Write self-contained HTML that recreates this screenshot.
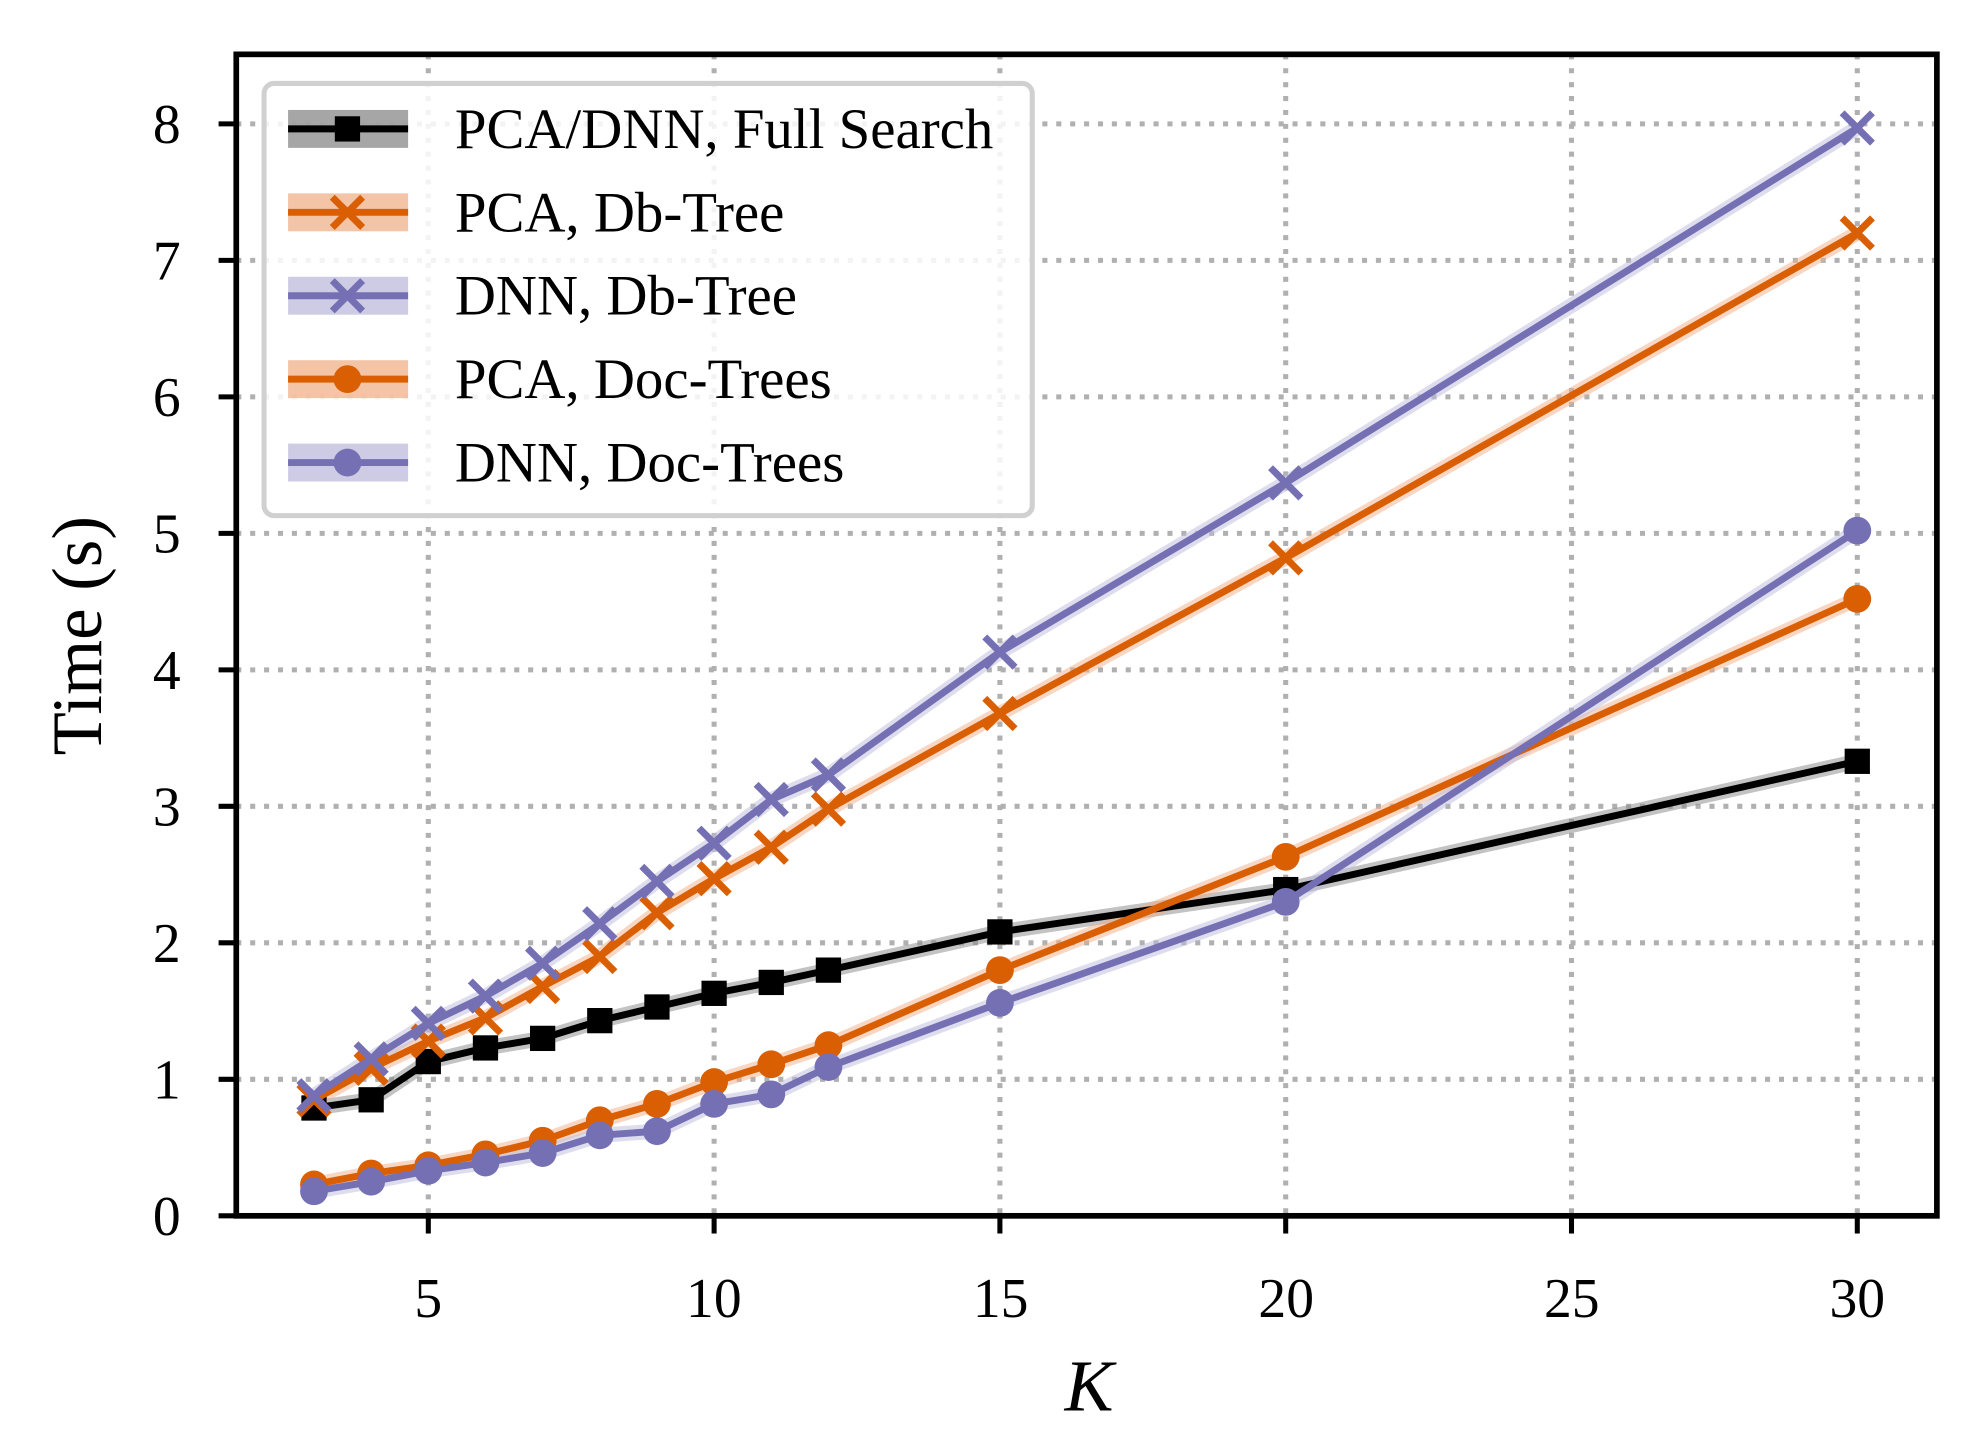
<!DOCTYPE html>
<html><head><meta charset="utf-8"><style>html,body{margin:0;padding:0;background:#fff}svg{display:block}</style></head>
<body>
<svg id="s" width="1971" height="1437" viewBox="0 0 1560 1137" preserveAspectRatio="none" xmlns="http://www.w3.org/2000/svg" font-family="'Liberation Serif', serif">
<rect x="0" y="0" width="1560" height="1137" fill="#fff"/>
<g id="grid" stroke="#b0b0b0" stroke-width="4" stroke-dasharray="4,7"></g>
<g id="data"></g>
<rect x="187" y="43" width="1346" height="919" fill="none" stroke="#000" stroke-width="4.5"/>
<g id="ticks" stroke="#000" stroke-width="4"></g>
<g font-size="44" fill="#000">
<text x="339" y="1042" text-anchor="middle">5</text>
<text x="565" y="1042" text-anchor="middle">10</text>
<text x="792" y="1042" text-anchor="middle">15</text>
<text x="1018" y="1042" text-anchor="middle">20</text>
<text x="1244" y="1042" text-anchor="middle">25</text>
<text x="1470" y="1042" text-anchor="middle">30</text>
<text x="143" y="977" text-anchor="end">0</text>
<text x="143" y="869" text-anchor="end">1</text>
<text x="143" y="761" text-anchor="end">2</text>
<text x="143" y="653" text-anchor="end">3</text>
<text x="143" y="545" text-anchor="end">4</text>
<text x="143" y="437" text-anchor="end">5</text>
<text x="143" y="329" text-anchor="end">6</text>
<text x="143" y="221" text-anchor="end">7</text>
<text x="143" y="113" text-anchor="end">8</text>
</g>
<text x="862" y="1116" font-size="58" font-style="italic" text-anchor="middle">K</text>
<text transform="translate(80,503) rotate(-90)" font-size="56" text-anchor="middle">Time (s)</text>
<rect x="209" y="66" width="608" height="342" rx="8" fill="#fff" fill-opacity="0.85" stroke="#d0d0d0" stroke-width="4"/>
<g id="leg"></g>
<g font-size="45" fill="#000">
<text x="360" y="117">PCA/DNN, Full Search</text>
<text x="360" y="183">PCA, Db-Tree</text>
<text x="360" y="249">DNN, Db-Tree</text>
<text x="360" y="315">PCA, Doc-Trees</text>
<text x="360" y="381">DNN, Doc-Trees</text>
</g>
</svg>
<script>
var NS="http://www.w3.org/2000/svg";
function el(p,t,a){var e=document.createElementNS(NS,t);for(var k in a)e.setAttribute(k,a[k]);p.appendChild(e);return e;}
function X(k){return 339+(k-5)*45.24;} function Y(v){return 962-v*108;}
var g=document.getElementById('grid'),tk=document.getElementById('ticks');
[5,10,15,20,25,30].forEach(function(k){el(g,'line',{x1:X(k),x2:X(k),y1:43,y2:962});el(tk,'line',{x1:X(k),x2:X(k),y1:962,y2:976});});
for(var i=0;i<=8;i++){el(g,'line',{x1:187,x2:1533,y1:Y(i),y2:Y(i)});el(tk,'line',{x1:173,x2:187,y1:Y(i),y2:Y(i)});}
var K=[3,4,5,6,7,8,9,10,11,12,15,20,30];
var S=[
{c:'#000',b:'#888',m:'s',d:[0.79,0.85,1.13,1.23,1.30,1.43,1.53,1.63,1.71,1.80,2.08,2.39,3.33]},
{c:'#d95f02',b:'#f0b08a',m:'x',d:[0.85,1.08,1.28,1.45,1.68,1.90,2.22,2.47,2.70,2.98,3.68,4.82,7.20]},
{c:'#7570b3',b:'#bebbdc',m:'x',d:[0.88,1.15,1.41,1.61,1.85,2.14,2.45,2.73,3.05,3.23,4.13,5.37,7.97]},
{c:'#d95f02',b:'#f0b08a',m:'o',d:[0.23,0.31,0.37,0.45,0.55,0.70,0.82,0.98,1.11,1.25,1.80,2.63,4.52]},
{c:'#7570b3',b:'#bebbdc',m:'o',d:[0.18,0.25,0.33,0.39,0.46,0.59,0.62,0.82,0.89,1.09,1.56,2.30,5.02]}];
function mark(p,m,x,y,c){
 if(m=='s')el(p,'rect',{x:x-10,y:y-10,width:20,height:20,fill:c});
 else if(m=='o')el(p,'circle',{cx:x,cy:y,r:11,fill:c});
 else{el(p,'path',{d:'M'+(x-12)+' '+(y-12)+'L'+(x+12)+' '+(y+12)+'M'+(x-12)+' '+(y+12)+'L'+(x+12)+' '+(y-12),stroke:c,'stroke-width':5.5,fill:'none'});}
}
var D=document.getElementById('data');
S.forEach(function(s){
 var pts=K.map(function(k,i){return X(k)+','+Y(s.d[i]);}).join(' ');
 el(D,'polyline',{points:pts,fill:'none',stroke:s.b,'stroke-opacity':0.5,'stroke-width':12,'stroke-linejoin':'round'});
});
S.forEach(function(s){
 var pts=K.map(function(k,i){return X(k)+','+Y(s.d[i]);}).join(' ');
 el(D,'polyline',{points:pts,fill:'none',stroke:s.c,'stroke-width':5.5,'stroke-linejoin':'round'});
 K.forEach(function(k,i){mark(D,s.m,X(k),Y(s.d[i]),s.c);});
});
var L=document.getElementById('leg');
S.forEach(function(s,i){var y=102+66*i;
 el(L,'rect',{x:228,y:y-15,width:95,height:30,fill:s.b,'fill-opacity':0.75});
 el(L,'line',{x1:228,x2:323,y1:y,y2:y,stroke:s.c,'stroke-width':5.5});
 mark(L,s.m,275,y,s.c);});
</script>
</body></html>
